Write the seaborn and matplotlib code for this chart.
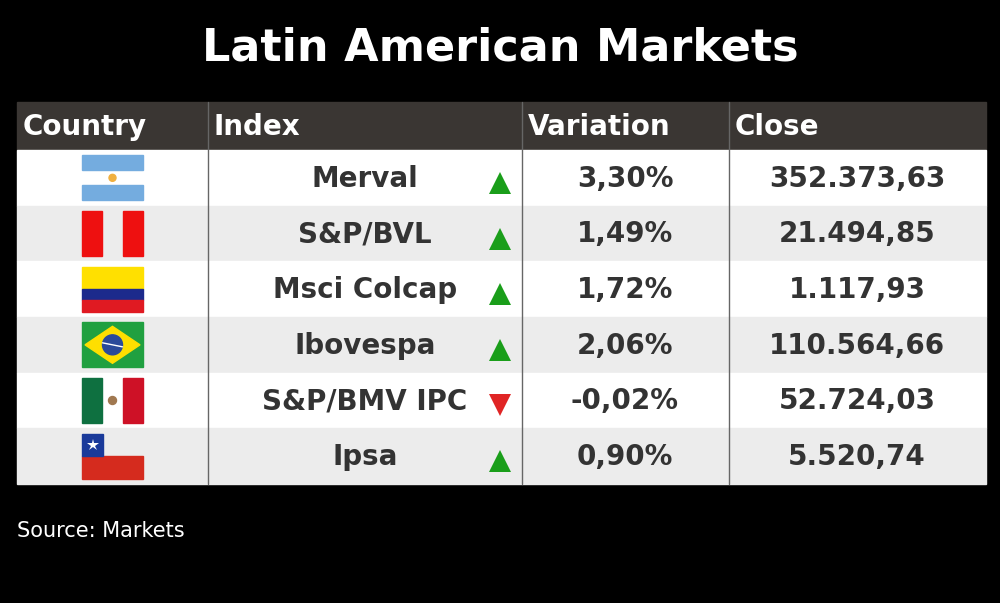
import numpy as np
import pandas as pd
import seaborn as sns
import matplotlib.pyplot as plt
from matplotlib.patches import Rectangle, Polygon, Circle

sns.set_theme(style="white")
plt.rcParams["font.family"] = ["DejaVu Sans"]

countries = ["Argentina", "Peru", "Colombia", "Brazil", "Mexico", "Chile"]
indices = ["Merval", "S&P/BVL", "Msci Colcap", "Ibovespa", "S&P/BMV IPC", "Ipsa"]
variations = [3.30, 1.49, 1.72, 2.06, -0.02, 0.90]
closes = [352373.63, 21494.85, 1117.93, 110564.66, 52724.03, 5520.74]
headers = ["Country", "Index", "Variation", "Close"]

df = pd.DataFrame({"country": countries, "index": indices,
                   "variation": variations, "close": closes})


def fmt_num(v):
    # 1234.5 -> 1.234,50
    s = f"{v:,.2f}"
    return s.replace(",", "X").replace(".", ",").replace("X", ".")


df["var_txt"] = df["variation"].map(lambda v: fmt_num(v) + "%")
df["close_txt"] = df["close"].map(fmt_num)
df["up"] = df["variation"] >= 0

# layout (pixels)
left, right = 17, 986
col_x = [17, 208, 522, 729, 986]
head_top, head_bot = 102, 150
row_h = (484 - 150) / len(df)
flag_cx, flag_w, flag_h = 112.5, 61, 45
text_col = "#333333"

fig = plt.figure(figsize=(10, 6.03), dpi=100, facecolor="black")
ax = fig.add_axes([0, 0, 1, 1])
ax.set_xlim(0, 1000)
ax.set_ylim(603, 0)
ax.axis("off")
ax.set_facecolor("black")

ax.text(500, 48, "Latin American Markets", color="white", fontsize=32,
        fontweight="heavy", ha="center", va="center")

# header
ax.add_patch(Rectangle((left, head_top), right - left, head_bot - head_top,
                       color="#3a3633", zorder=1))
for x0, h in zip(col_x[:-1], headers):
    ax.text(x0 + 6, (head_top + head_bot) / 2 + 1, h, color="white",
            fontsize=20, fontweight="bold", ha="left", va="center", zorder=3)


def draw_flag(name, cx, cy):
    x0, y0 = cx - flag_w / 2, cy - flag_h / 2
    w, h = flag_w, flag_h
    if name == "Argentina":
        ax.add_patch(Rectangle((x0, y0), w, h / 3, color="#74acdf", zorder=4))
        ax.add_patch(Rectangle((x0, y0 + 2 * h / 3), w, h / 3, color="#74acdf", zorder=4))
        ax.add_patch(Circle((cx, cy), 3.5, color="#f0b040", zorder=5))
    elif name == "Peru":
        ax.add_patch(Rectangle((x0, y0), w / 3, h, color="#ee1010", zorder=4))
        ax.add_patch(Rectangle((x0 + 2 * w / 3, y0), w / 3, h, color="#ee1010", zorder=4))
    elif name == "Colombia":
        ax.add_patch(Rectangle((x0, y0), w, h / 2, color="#ffe000", zorder=4))
        ax.add_patch(Rectangle((x0, y0 + h / 2), w, h / 4, color="#1c2a8c", zorder=4))
        ax.add_patch(Rectangle((x0, y0 + 3 * h / 4), w, h / 4, color="#e01a22", zorder=4))
    elif name == "Brazil":
        ax.add_patch(Rectangle((x0, y0), w, h, color="#20a040", zorder=4))
        ax.add_patch(Polygon([(x0 + 3, cy), (cx, y0 + 4), (x0 + w - 3, cy), (cx, y0 + h - 4)],
                             color="#fedf00", zorder=5))
        ax.add_patch(Circle((cx, cy), 10, color="#2a4a9a", zorder=6))
        ax.plot([cx - 10, cx + 10], [cy - 2, cy + 2], color="white", lw=1, zorder=7)
    elif name == "Mexico":
        ax.add_patch(Rectangle((x0, y0), w / 3, h, color="#0e7040", zorder=4))
        ax.add_patch(Rectangle((x0 + 2 * w / 3, y0), w / 3, h, color="#ce1126", zorder=4))
        ax.add_patch(Circle((cx, cy), 4, color="#a07850", zorder=5))
    elif name == "Chile":
        ax.add_patch(Rectangle((x0, y0 + h / 2), w, h / 2, color="#d52b1e", zorder=4))
        ax.add_patch(Rectangle((x0, y0), w / 3 + 1, h / 2, color="#1a3a9a", zorder=4))
        ax.plot(x0 + w / 6 + 0.5, y0 + h / 4, marker="*", color="white",
                markersize=9, markeredgewidth=0, zorder=5)


for i, r in df.iterrows():
    y0 = head_bot + i * row_h
    cy = y0 + row_h / 2
    ax.add_patch(Rectangle((left, y0), right - left, row_h,
                           color="white" if i % 2 == 0 else "#ececec", zorder=1))
    draw_flag(r["country"], flag_cx, cy)
    ax.text(365, cy + 1, r["index"], color=text_col, fontsize=20,
            fontweight="bold", ha="center", va="center", zorder=3)
    ax.plot(500, cy + 5, marker="^" if r["up"] else "v",
            color="#1a9e1a" if r["up"] else "#e02525",
            markersize=16, markeredgewidth=0, zorder=3)
    ax.text(625, cy + 1, r["var_txt"], color=text_col, fontsize=20,
            fontweight="bold", ha="center", va="center", zorder=3)
    ax.text(857, cy + 1, r["close_txt"], color=text_col, fontsize=20,
            fontweight="bold", ha="center", va="center", zorder=3)

table_bot = head_bot + len(df) * row_h
for x in col_x[1:-1]:
    ax.plot([x, x], [head_top, table_bot], color="#666666", lw=1, zorder=2)

ax.text(17, 531, "Source: Markets", color="white", fontsize=15,
        ha="left", va="center")

fig.savefig("out.png", dpi=100, facecolor="black")
